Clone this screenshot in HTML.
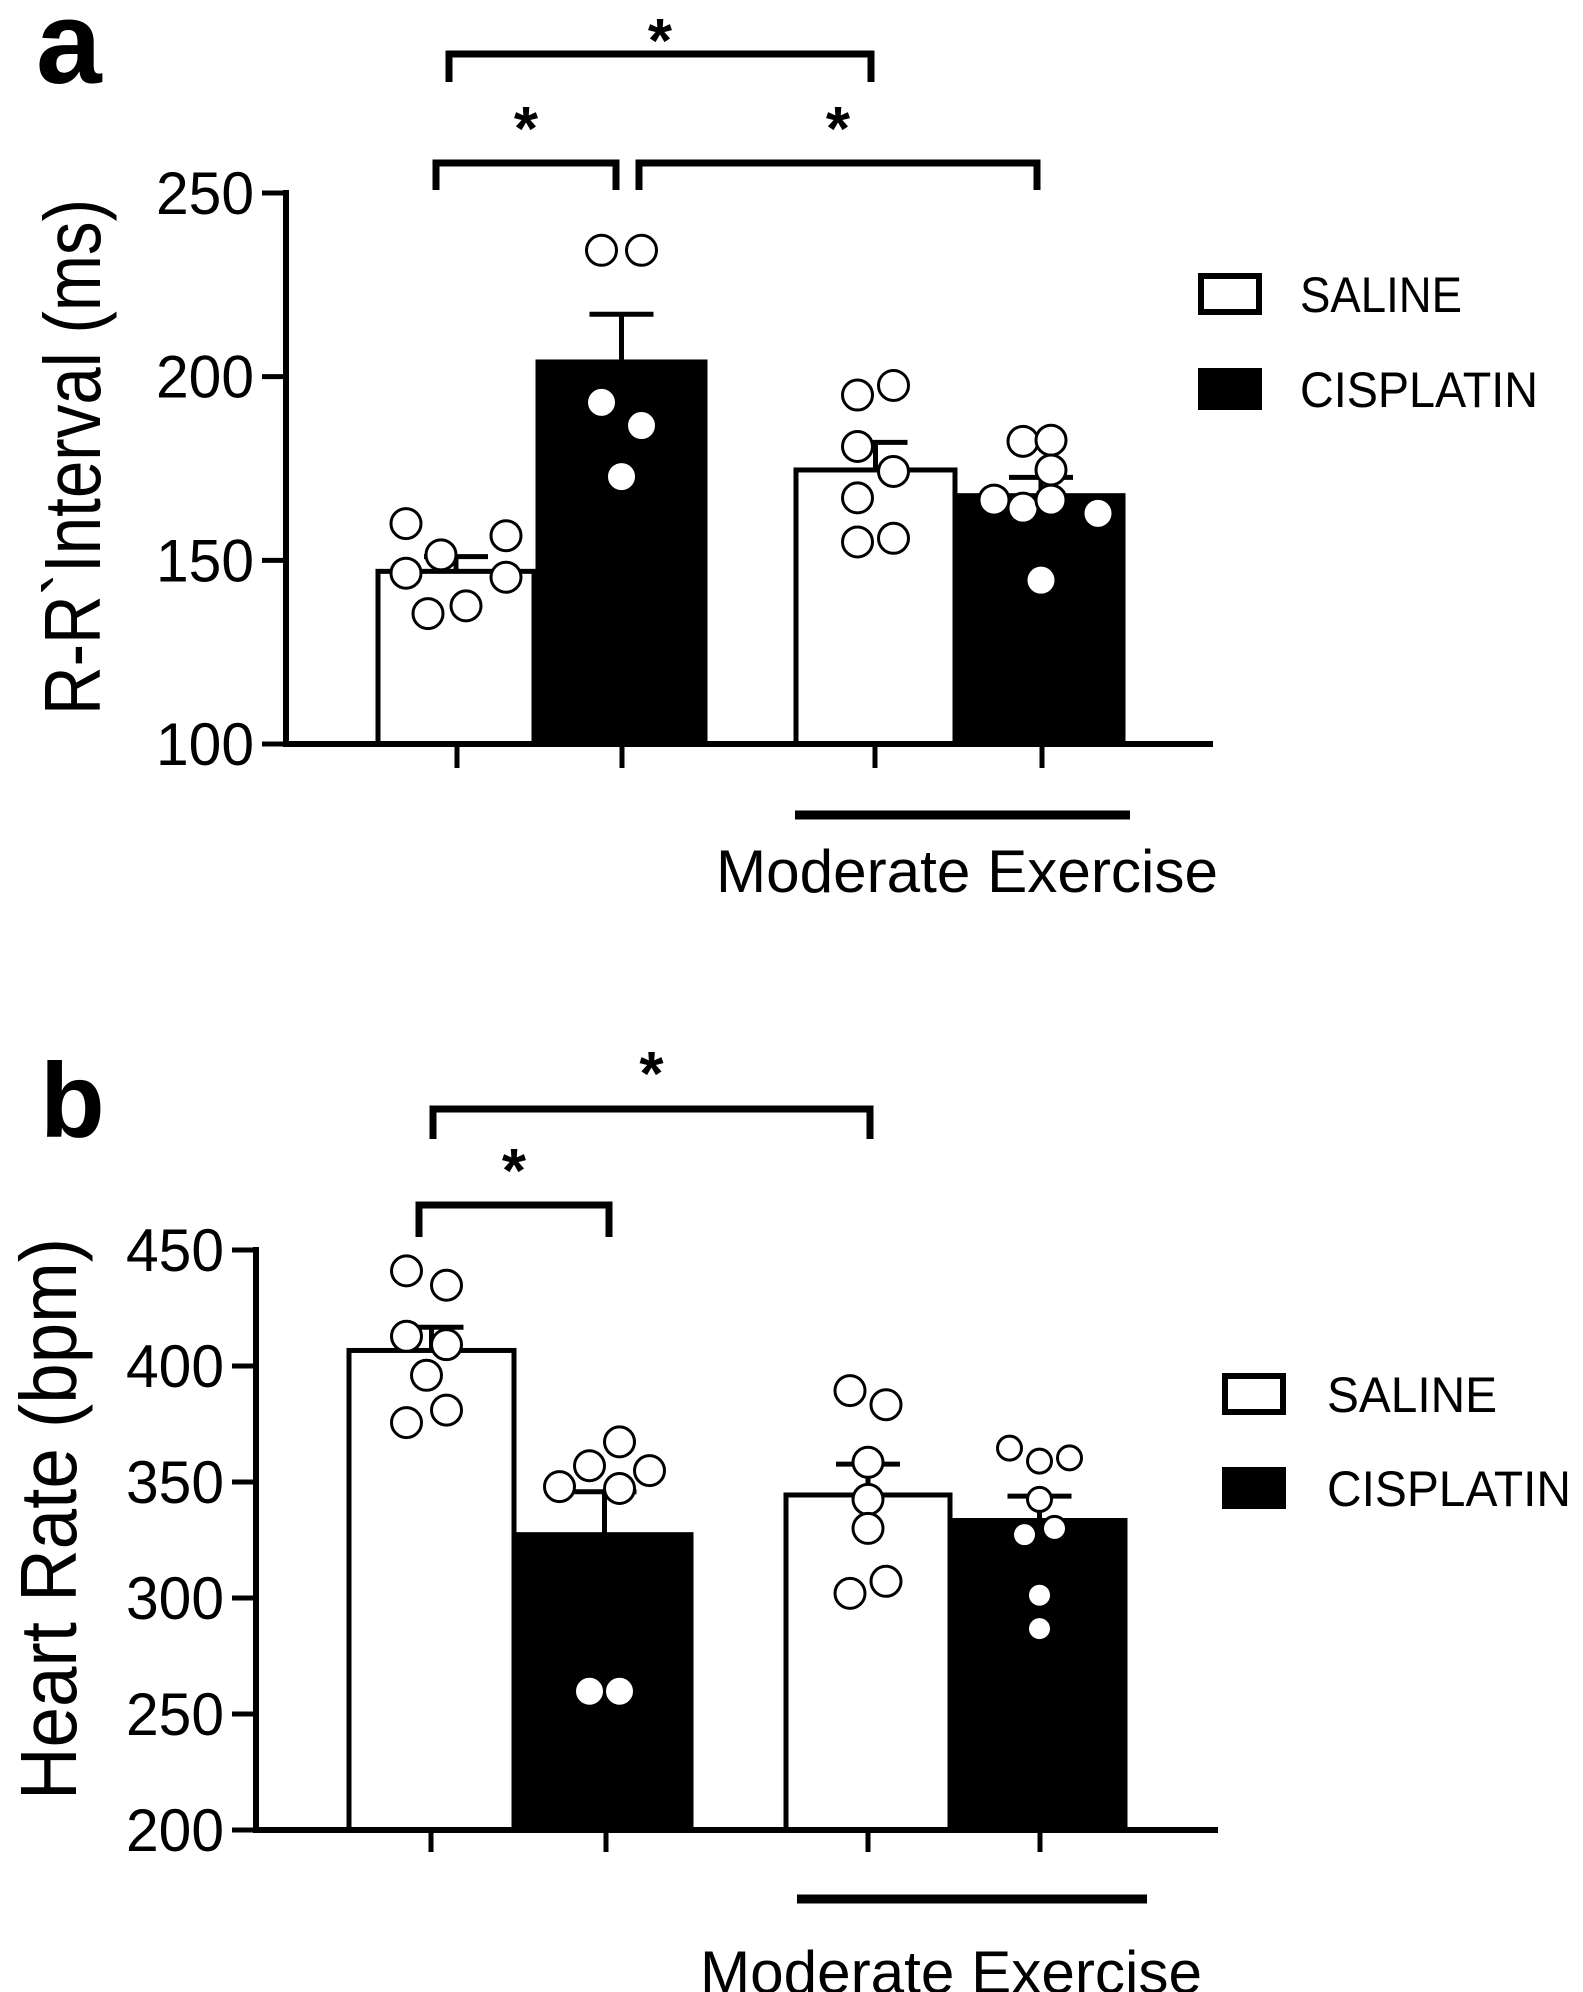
<!DOCTYPE html>
<html><head><meta charset="utf-8"><style>
html,body{margin:0;padding:0;background:#fff}
svg{display:block}
text{font-family:"Liberation Sans",sans-serif;fill:#000}
</style></head><body>
<svg id="fig" width="1583" height="1992" viewBox="0 0 1583 1992"></svg>
<script>
// ---- Panel a data (R-R interval, ms) ----
const groupsA = ["Saline", "Cisplatin", "Saline + Exercise", "Cisplatin + Exercise"];
const meansA = [147, 204, 174.6, 167.6];
const semA = [4, 13, 7.5, 5];
const ptsA0 = [160, 151.5, 156.7, 146.5, 145.4, 135.5, 137.6];
const ptsA1 = [234.4, 234.4, 193, 186.7, 172.8];
const ptsA2 = [195, 197.6, 181, 174.2, 167, 155, 156];
const ptsA3 = [182.4, 182.7, 174.6, 166.4, 164.2, 166.4, 162.8, 144.6];
const ticksA = [100, 150, 200, 250];
// ---- Panel b data (Heart rate, bpm) ----
const groupsB = ["Saline", "Cisplatin", "Saline + Exercise", "Cisplatin + Exercise"];
const meansB = [406.7, 327.3, 344.4, 333.4];
const semB = [10, 18.5, 13.3, 10.5];
const ptsB0 = [441, 434.8, 412.8, 409.2, 396, 375.6, 381];
const ptsB1 = [348, 357, 367.3, 354.9, 347.2, 259.8, 259.8];
const ptsB2 = [389.4, 383.3, 358.5, 342.5, 330, 302, 307.2];
const ptsB3 = [364.6, 359, 360.4, 342.5, 327.3, 330, 301.2, 286.8];
const ticksB = [200, 250, 300, 350, 400, 450];

// jitter offsets (layout, px from bar centre)
const jitA = [[-50,-15,50,-50,50,-28,10],[-20,20,-20,20,0],[-18,18,-18,18,-18,-18,18],[-18,10,10,-47,-18,10,57,0]];
const jitB = [[-25,15,-25,15,-5,-25,15],[-45,-15,15,45,15,-15,15],[-18,18,0,0,0,-18,18],[-30,0,30,0,-15,15,0,0]];

const NS = "http://www.w3.org/2000/svg";
const svg = document.getElementById("fig");
function el(tag, attrs, parent) {
  const e = document.createElementNS(NS, tag);
  for (const k in attrs) e.setAttribute(k, attrs[k]);
  (parent || svg).appendChild(e);
  return e;
}

function drawPanel(P) {
  const g = el("g", {});
  
  
  const y = v => P.y0 + (v - P.vmin) * (P.y1 - P.y0) / (P.vmax - P.vmin);
  const L = el("text", {x: P.letterX, y: P.letterY, "font-size": P.letterSize, "font-weight": "bold"}, g);
  L.textContent = P.letter;
  
  
  for (let i = 0; i < P.means.length; i++) {
    const x0 = P.barL[i], x1 = P.barR[i];
    const filled = i % 2 === 1;
    const top = y(P.means[i]);
    const cx = (x0 + x1) / 2;
    const r = el("rect", {x: x0 + 2, y: top, width: x1 - x0 - 4, height: P.y0 - top,
      fill: filled ? "#000" : "#fff", stroke: "#000", "stroke-width": 5}, g);
    
    
    const ey = y(P.means[i] + P.sem[i]);
    const eb = el("g", {}, g);
    
    
    el("line", {x1: cx, y1: top, x2: cx, y2: ey, stroke: "#000", "stroke-width": 5}, eb);
    el("line", {x1: cx - 32, y1: ey, x2: cx + 32, y2: ey, stroke: "#000", "stroke-width": 5}, eb);
    const pts = P.pts[i];
    for (let j = 0; j < pts.length; j++) {
      const c = el("circle", {cx: cx + P.jit[i][j], cy: y(pts[j]), r: P.rad[i],
        fill: "#fff", stroke: "#000", "stroke-width": 3}, g);
      
      
    }
  }
  const ax = el("g", {}, g);
  
  
  el("line", {x1: P.axisX, y1: y(P.vmax) - 3, x2: P.axisX, y2: P.y0 + 3, stroke: "#000", "stroke-width": 6}, ax);
  for (const t of P.ticks) {
    el("line", {x1: P.axisX - 24, y1: y(t), x2: P.axisX, y2: y(t), stroke: "#000", "stroke-width": 5}, ax);
    const tx = el("text", {x: P.axisX - 32, y: y(t) + 21, "font-size": 60, "text-anchor": "end",
      textLength: 98, lengthAdjust: "spacingAndGlyphs"}, ax);
    tx.textContent = t;
    
    
  }
  const xa = el("g", {}, g);
  
  
  el("line", {x1: P.axisX - 3, y1: P.y0, x2: P.xEnd, y2: P.y0, stroke: "#000", "stroke-width": 6}, xa);
  for (const tx of P.tickX) el("line", {x1: tx, y1: P.y0, x2: tx, y2: P.y0 + P.tickLen, stroke: "#000", "stroke-width": 5}, xa);
  const yt = el("text", {x: 0, y: 0, "font-size": 80, "text-anchor": "middle",
    textLength: P.titleLen, lengthAdjust: "spacingAndGlyphs",
    transform: `translate(${P.titleX},${P.titleY}) rotate(-90)`}, g);
  yt.textContent = P.title;
  
  
  const ex = el("line", {x1: P.exX[0], y1: P.exY, x2: P.exX[1], y2: P.exY, stroke: "#000", "stroke-width": 9}, g);
  
  
  const et = el("text", {x: P.exTextX, y: P.exTextY, "font-size": 60, textLength: 502, lengthAdjust: "spacingAndGlyphs"}, g);
  et.textContent = "Moderate Exercise";
  
  
  for (const b of P.brackets) {
    const bg = el("g", {}, g);
    
    
    el("polyline", {points: `${b[0]},${b[3]} ${b[0]},${b[2]} ${b[1]},${b[2]} ${b[1]},${b[3]}`,
      fill: "none", stroke: "#000", "stroke-width": 7}, bg);
    const s = el("text", {x: (b[0] + b[1]) / 2 + b[5], y: b[4], "font-size": 62, "font-weight": "bold", "text-anchor": "middle"}, bg);
    s.textContent = "*";
  }
  const lg = el("g", {}, g);
  
  
  const names = ["SALINE", "CISPLATIN"];
  for (let k = 0; k < 2; k++) {
    const e = el("g", {}, lg);
    
    
    const by = P.legY[k];
    el("rect", {x: P.legX + 3, y: by + 3, width: 58, height: 36, fill: k ? "#000" : "#fff", stroke: "#000", "stroke-width": 6}, e);
    const t = el("text", {x: P.legTextX, y: by + 39, "font-size": 50, textLength: P.legLen[k], lengthAdjust: "spacingAndGlyphs"}, e);
    t.textContent = names[k];
  }
}

drawPanel({
  name: "panel-a-rr-interval", letter: "a", letterX: 36, letterY: 83, letterSize: 118,
  vmin: 100, vmax: 250, y0: 744, y1: 193, axisX: 286, xEnd: 1213,
  barL: [376, 536, 794, 957], barR: [536, 707, 957, 1125],
  means: meansA, sem: semA, pts: [ptsA0, ptsA1, ptsA2, ptsA3], jit: jitA, rad: [15, 15, 15, 15],
  ticks: ticksA, tickX: [457, 622, 875, 1042], tickLen: 24,
  title: "R-R`Interval (ms)", titleX: 100, titleY: 457, titleLen: 516,
  exX: [795, 1130], exY: 815, exTextX: 716, exTextY: 892,
  brackets: [[449, 871, 54, 82, 62, 0], [436, 616, 163, 190, 150, 0], [639, 1037, 163, 190, 150, 0]],
  legX: 1198, legY: [273, 368], legTextX: 1300, legLen: [162, 238]
});
drawPanel({
  name: "panel-b-heart-rate", letter: "b", letterX: 40, letterY: 1137, letterSize: 106,
  vmin: 200, vmax: 450, y0: 1830, y1: 1250, axisX: 256, xEnd: 1218,
  barL: [347, 516, 784, 952], barR: [516, 693, 952, 1127],
  means: meansB, sem: semB, pts: [ptsB0, ptsB1, ptsB2, ptsB3], jit: jitB, rad: [15, 15, 15, 12],
  ticks: ticksB, tickX: [431, 606, 868, 1040], tickLen: 22,
  title: "Heart Rate (bpm)", titleX: 76, titleY: 1519, titleLen: 562,
  exX: [797, 1147], exY: 1899, exTextX: 700, exTextY: 1993,
  brackets: [[433, 870, 1109, 1139, 1095, 0], [419, 609, 1205, 1237, 1192, 0]],
  legX: 1222, legY: [1373, 1467], legTextX: 1327, legLen: [170, 244]
});
</script>
</body></html>
